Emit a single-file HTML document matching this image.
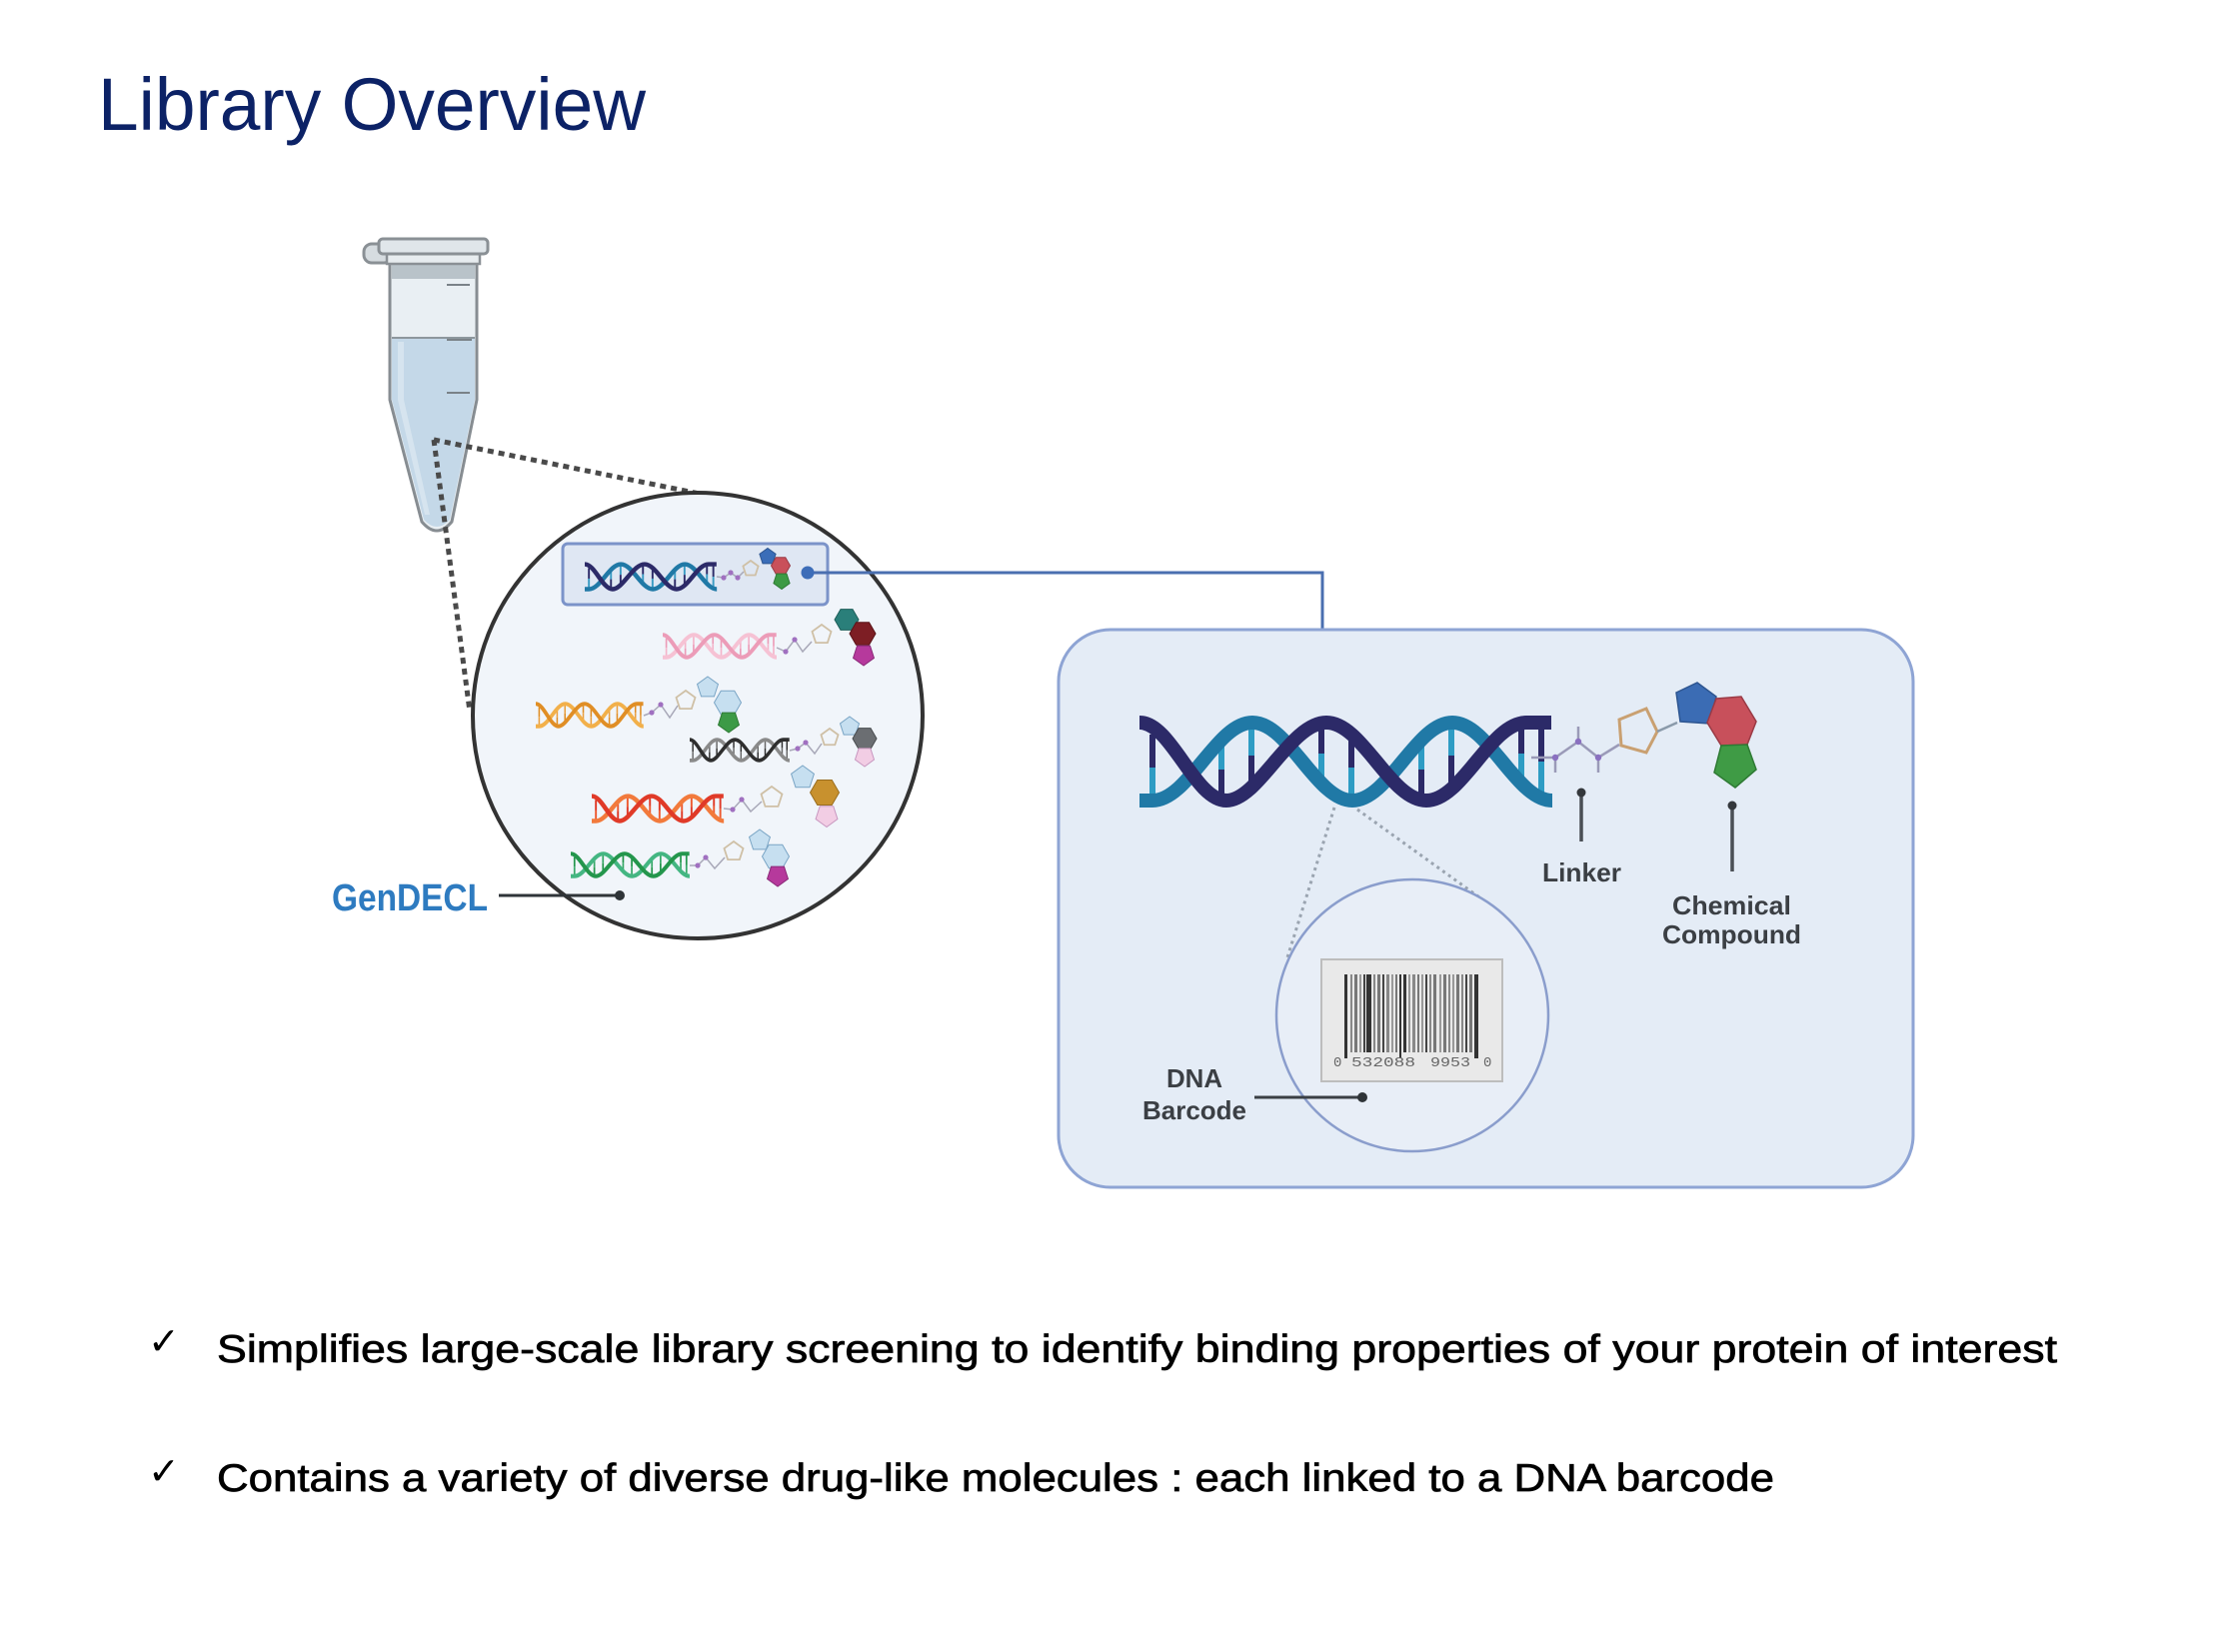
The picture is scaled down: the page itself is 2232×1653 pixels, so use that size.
<!DOCTYPE html>
<html>
<head>
<meta charset="utf-8">
<style>
  html,body{margin:0;padding:0;background:#fff;}
  svg{display:block;}
  .lbl{font-family:"Liberation Sans",Arial,sans-serif;font-weight:bold;fill:#3b3f44;}
</style>
</head>
<body>
<svg width="2232" height="1653" viewBox="0 0 2232 1653" xmlns="http://www.w3.org/2000/svg">
<defs>
  <polygon id="pent" points="0,-1 0.951,-0.309 0.588,0.809 -0.588,0.809 -0.951,-0.309" vector-effect="non-scaling-stroke"/>
  <polygon id="hex" points="1,0 0.5,0.866 -0.5,0.866 -1,0 -0.5,-0.866 0.5,-0.866" vector-effect="non-scaling-stroke"/>
  <g id="dna" fill="none">
    <g stroke-width="6">
      <line x1="13" y1="20" x2="13" y2="53" style="stroke:var(--a)"/><line x1="13" y1="53" x2="13" y2="86" style="stroke:var(--c)"/>
      <line x1="82" y1="25" x2="82" y2="55" style="stroke:var(--c)"/><line x1="82" y1="55" x2="82" y2="85" style="stroke:var(--a)"/>
      <line x1="112" y1="8" x2="112" y2="41" style="stroke:var(--c)"/><line x1="112" y1="41" x2="112" y2="75" style="stroke:var(--a)"/>
      <line x1="182" y1="9" x2="182" y2="39" style="stroke:var(--a)"/><line x1="182" y1="39" x2="182" y2="69" style="stroke:var(--c)"/>
      <line x1="212" y1="20" x2="212" y2="53" style="stroke:var(--a)"/><line x1="212" y1="53" x2="212" y2="86" style="stroke:var(--c)"/>
      <line x1="282" y1="25" x2="282" y2="55" style="stroke:var(--c)"/><line x1="282" y1="55" x2="282" y2="85" style="stroke:var(--a)"/>
      <line x1="312" y1="8" x2="312" y2="41" style="stroke:var(--c)"/><line x1="312" y1="41" x2="312" y2="75" style="stroke:var(--a)"/>
      <line x1="382" y1="9" x2="382" y2="39" style="stroke:var(--a)"/><line x1="382" y1="39" x2="382" y2="69" style="stroke:var(--c)"/>
      <line x1="402" y1="10" x2="402" y2="47" style="stroke:var(--a)"/><line x1="402" y1="47" x2="402" y2="84" style="stroke:var(--c)"/>
    </g>
    <path d="M0,86 L13,86 C49,86 77,8 113,8 S177,86 213,86 S277,8 313,8 S377,86 413,86" stroke-width="14" style="stroke:var(--b)"/>
    <path d="M0,8 C32,8 55,86 87,86 S151,8 187,8 S251,86 287,86 S351,8 387,8 L412,8" stroke-width="14" style="stroke:var(--a)"/>
  </g>
</defs>

<rect width="2232" height="1653" fill="#fff"/>

<!-- Title -->
<text x="98" y="130" font-family="'Liberation Sans',Arial,sans-serif" font-size="74" fill="#0c2266" textLength="548" lengthAdjust="spacingAndGlyphs">Library Overview</text>

<!-- Tube -->
<g>
  <rect x="364" y="244" width="28" height="19" rx="8" fill="#d6dce0" stroke="#8a9095" stroke-width="3"/>
  <path d="M390,263 L390,400 L422,522 Q437,540 452,522 L477,400 L477,263 Z" fill="#e9eff3"/>
  <path d="M392,338 L475,338 L475,400 L450,520 Q437,534 424,520 L392,400 Z" fill="#c4d8e8"/>
  <path d="M398,342 L404,342 L404,400 L430,515 L425,515 L398,400 Z" fill="#d6e4ef"/>
  <rect x="392" y="263" width="83" height="16" fill="#b9c3c9"/>
  <line x1="392" y1="338" x2="475" y2="338" stroke="#8d979d" stroke-width="2"/>
  <path d="M390,263 L390,400 L422,522 Q437,540 452,522 L477,400 L477,263" fill="none" stroke="#878d92" stroke-width="3"/>
  <rect x="387" y="253" width="93" height="11" fill="#e7ecef" stroke="#8a9095" stroke-width="2.5"/>
  <rect x="379" y="239" width="109" height="15" rx="4" fill="#e0e6ea" stroke="#8a9095" stroke-width="3"/>
  <g stroke="#7a8288" stroke-width="2">
    <line x1="447" y1="285" x2="470" y2="285"/>
    <line x1="447" y1="340" x2="472" y2="340"/>
    <line x1="447" y1="393" x2="470" y2="393"/>
  </g>
</g>

<!-- Dashed zoom lines -->
<g stroke="#4a4a4a" stroke-width="5" stroke-dasharray="6 5" fill="none">
  <line x1="434" y1="440" x2="700" y2="494"/>
  <line x1="434" y1="440" x2="470" y2="712"/>
</g>

<!-- Library circle -->
<ellipse cx="698" cy="716" rx="225" ry="223" fill="#f1f5fa" stroke="#333" stroke-width="4"/>

<!-- Highlight rect -->
<rect x="563" y="544" width="265" height="61" rx="5" fill="#dfe7f3" stroke="#7b93c9" stroke-width="3"/>

<!-- Small DNAs -->
<use href="#dna" transform="translate(585,562) scale(0.32,0.32)" style="--a:#2c2a68;--b:#2079a6;--c:#3a9cc4"/>
<use href="#dna" transform="translate(663,633) scale(0.276,0.287)" style="--a:#ec9cb8;--b:#f6c2d4;--c:#f4b4ca"/>
<use href="#dna" transform="translate(536,702) scale(0.261,0.287)" style="--a:#e08e25;--b:#f2b04a;--c:#eaa040"/>
<use href="#dna" transform="translate(690,738) scale(0.242,0.266)" style="--a:#2e2e2e;--b:#8a8a8a;--c:#666"/>
<use href="#dna" transform="translate(592,794) scale(0.32,0.32)" style="--a:#e03a28;--b:#f27a3c;--c:#ee5a30"/>
<use href="#dna" transform="translate(571,852) scale(0.288,0.287)" style="--a:#24964c;--b:#44b682;--c:#38a868"/>

<!-- Small linkers -->
<g fill="none" stroke="#a8a8b8" stroke-width="1.5">
  <polyline points="717,577 724,578 731,573 738,578 744,572"/>
  <polyline points="777,648 786,652 795,640 803,652 812,642"/>
  <polyline points="644,716 652,713 661,705 670,718 678,706"/>
  <polyline points="790,751 798,749 806,743 815,754 822,744"/>
  <polyline points="724,809 733,810 742,800 751,812 762,802"/>
  <polyline points="690,866 698,866 706,858 715,869 725,858"/>
</g>
<g fill="#a070c0">
  <circle cx="724" cy="578" r="2.6"/><circle cx="731" cy="573" r="2.6"/><circle cx="738" cy="578" r="2.6"/>
  <circle cx="786" cy="652" r="2.6"/><circle cx="795" cy="640" r="2.6"/>
  <circle cx="652" cy="713" r="2.6"/><circle cx="661" cy="705" r="2.6"/>
  <circle cx="798" cy="749" r="2.6"/><circle cx="806" cy="743" r="2.6"/>
  <circle cx="733" cy="810" r="2.6"/><circle cx="742" cy="800" r="2.6"/>
  <circle cx="698" cy="866" r="2.6"/><circle cx="706" cy="858" r="2.6"/>
</g>
<g fill="none" stroke="#cfc0a6" stroke-width="1.8">
  <use href="#pent" transform="translate(751,569) scale(8)"/>
  <use href="#pent" transform="translate(822,635) scale(10)"/>
  <use href="#pent" transform="translate(686,701) scale(10)"/>
  <use href="#pent" transform="translate(830,738) scale(9)"/>
  <use href="#pent" transform="translate(772,798) scale(11)"/>
  <use href="#pent" transform="translate(734,852) scale(10)"/>
</g>

<!-- Small molecules -->
<g stroke-width="1">
  <!-- row1 -->
  <use href="#pent" transform="translate(768,557) scale(8.5)" fill="#3a6db8" stroke="#2d5590"/>
  <use href="#hex" transform="translate(781,566) scale(9.5)" fill="#c9505a" stroke="#9a3a45"/>
  <use href="#pent" transform="translate(782,581) rotate(180) scale(8.5)" fill="#3d9a44" stroke="#2e7a34"/>
  <!-- row2 -->
  <use href="#hex" transform="translate(847,620) scale(12)" fill="#2a7f7a" stroke="#1f5f5a"/>
  <use href="#hex" transform="translate(863,634) scale(13)" fill="#7d1e24" stroke="#5a1418"/>
  <use href="#pent" transform="translate(864,655) rotate(180) scale(11)" fill="#b6399c" stroke="#8a2a78"/>
  <!-- row3 -->
  <use href="#pent" transform="translate(708,688) scale(11)" fill="#c6dff0" stroke="#7aa5c5"/>
  <use href="#hex" transform="translate(728,703) scale(13.5)" fill="#c6dff0" stroke="#7aa5c5"/>
  <use href="#pent" transform="translate(729,722) rotate(180) scale(11)" fill="#3c9a46" stroke="#2e7a34"/>
  <!-- row4 -->
  <use href="#pent" transform="translate(850,727) scale(10)" fill="#c6dff0" stroke="#7aa5c5"/>
  <use href="#hex" transform="translate(865,739) scale(12)" fill="#6b6e72" stroke="#4a4d50"/>
  <use href="#pent" transform="translate(865,757) rotate(180) scale(10)" fill="#f2cde4" stroke="#c898c0"/>
  <!-- row5 -->
  <use href="#pent" transform="translate(803,778) scale(12)" fill="#c6dff0" stroke="#7aa5c5"/>
  <use href="#hex" transform="translate(825,793) scale(14.5)" fill="#c8912e" stroke="#9a6e20"/>
  <use href="#pent" transform="translate(827,816) rotate(180) scale(11.5)" fill="#f2cde4" stroke="#c898c0"/>
  <!-- row6 -->
  <use href="#pent" transform="translate(760,841) scale(11)" fill="#c6dff0" stroke="#7aa5c5"/>
  <use href="#hex" transform="translate(776,857) scale(13.5)" fill="#c6dff0" stroke="#7aa5c5"/>
  <use href="#pent" transform="translate(778,876) rotate(180) scale(11)" fill="#b6399c" stroke="#8a2a78"/>
</g>

<!-- Blue connector -->
<polyline points="808,573 1323,573 1323,685" fill="none" stroke="#4a6fb0" stroke-width="3"/>
<circle cx="808" cy="573" r="6.5" fill="#3d6db8"/>

<!-- GenDECL label -->
<text x="332" y="911" font-family="'Liberation Sans',Arial,sans-serif" font-weight="bold" font-size="38" fill="#2e7bc0" textLength="156" lengthAdjust="spacingAndGlyphs">GenDECL</text>
<line x1="499" y1="896" x2="620" y2="896" stroke="#2f3438" stroke-width="3"/>
<circle cx="620" cy="896" r="5" fill="#2f3438"/>

<!-- Right box -->
<rect x="1059" y="630" width="855" height="558" rx="52" fill="#e4ecf6" stroke="#8ea4d4" stroke-width="3"/>

<!-- Dotted lines to barcode circle -->
<g stroke="#9aa4b0" stroke-width="3" stroke-dasharray="3 4" fill="none">
  <line x1="1335" y1="808" x2="1288" y2="958"/>
  <line x1="1358" y1="810" x2="1483" y2="900"/>
</g>

<!-- Barcode circle -->
<circle cx="1413" cy="1016" r="136" fill="#e8eef7" stroke="#8a9dcc" stroke-width="2.5"/>

<!-- Barcode -->
<rect x="1322" y="960" width="181" height="122" fill="#e9e9e9" stroke="#bdbdbd" stroke-width="2"/>
<g>
  <rect x="1345" y="975" width="3" height="84" fill="#333"/>
  <rect x="1351" y="975" width="2" height="78" fill="#888"/>
  <rect x="1355" y="975" width="3" height="78" fill="#777"/>
  <rect x="1360" y="975" width="2" height="78" fill="#999"/>
  <rect x="1364" y="975" width="2" height="78" fill="#444"/>
  <rect x="1367" y="975" width="5" height="78" fill="#333"/>
  <rect x="1374" y="975" width="2" height="78" fill="#888"/>
  <rect x="1378" y="975" width="3" height="78" fill="#777"/>
  <rect x="1383" y="975" width="2" height="78" fill="#444"/>
  <rect x="1387" y="975" width="3" height="78" fill="#888"/>
  <rect x="1392" y="975" width="2" height="78" fill="#999"/>
  <rect x="1396" y="975" width="2" height="78" fill="#777"/>
  <rect x="1400" y="975" width="2" height="84" fill="#333"/>
  <rect x="1404" y="975" width="3" height="78" fill="#333"/>
  <rect x="1409" y="975" width="2" height="78" fill="#999"/>
  <rect x="1413" y="975" width="3" height="78" fill="#888"/>
  <rect x="1418" y="975" width="2" height="78" fill="#777"/>
  <rect x="1422" y="975" width="2" height="78" fill="#999"/>
  <rect x="1426" y="975" width="2" height="78" fill="#444"/>
  <rect x="1430" y="975" width="2" height="78" fill="#888"/>
  <rect x="1434" y="975" width="3" height="78" fill="#777"/>
  <rect x="1440" y="975" width="2" height="78" fill="#999"/>
  <rect x="1444" y="975" width="3" height="78" fill="#777"/>
  <rect x="1449" y="975" width="2" height="78" fill="#888"/>
  <rect x="1453" y="975" width="2" height="78" fill="#999"/>
  <rect x="1457" y="975" width="3" height="78" fill="#777"/>
  <rect x="1462" y="975" width="2" height="78" fill="#888"/>
  <rect x="1466" y="975" width="2" height="78" fill="#444"/>
  <rect x="1470" y="975" width="3" height="78" fill="#777"/>
  <rect x="1475" y="975" width="4" height="84" fill="#333"/>
</g>
<g font-family="'Liberation Mono',monospace" font-size="14" fill="#666">
  <text x="1334" y="1067">0</text>
  <text x="1352" y="1067" textLength="64" lengthAdjust="spacingAndGlyphs">532088</text>
  <text x="1431" y="1067" textLength="40" lengthAdjust="spacingAndGlyphs">9953</text>
  <text x="1484" y="1067">0</text>
</g>

<!-- Big DNA -->
<use href="#dna" transform="translate(1140,715)" style="--a:#2c2a68;--b:#2079a6;--c:#2e9cc4"/>

<!-- Linker -->
<polyline points="1532,758 1556,758 1579,742 1599,758 1620,745" fill="none" stroke="#9a9ab8" stroke-width="2.5"/>
<g stroke="#9a9ab8" stroke-width="2.5">
  <line x1="1556" y1="758" x2="1556" y2="773"/>
  <line x1="1579" y1="742" x2="1579" y2="727"/>
  <line x1="1599" y1="758" x2="1599" y2="773"/>
</g>
<g fill="#8a70c0">
  <circle cx="1556" cy="758" r="3.2"/><circle cx="1579" cy="742" r="3.2"/><circle cx="1599" cy="758" r="3.2"/>
</g>
<polygon points="1620,720 1647,709 1658,732 1647,753 1622,746" fill="none" stroke="#c9a071" stroke-width="3"/>
<line x1="1658" y1="732" x2="1678" y2="723" stroke="#8a9aaa" stroke-width="2.5"/>

<!-- Chemical compound -->
<polygon points="1677,693 1698,683 1717,697 1710,724 1681,722" fill="#3b6cb4" stroke="#2d5590" stroke-width="1.5"/>
<polygon points="1717,699 1742,697 1757,722 1748,745 1722,746 1708,723" fill="#c8505b" stroke="#9a3a45" stroke-width="1.5"/>
<polygon points="1722,746 1748,745 1757,770 1736,788 1715,773" fill="#3f9b45" stroke="#2e7a34" stroke-width="1.5"/>

<!-- Pins -->
<line x1="1582" y1="793" x2="1582" y2="842" stroke="#4a4f55" stroke-width="3.5"/>
<circle cx="1582" cy="793" r="4.5" fill="#34383c"/>
<line x1="1733" y1="806" x2="1733" y2="872" stroke="#4a4f55" stroke-width="3.5"/>
<circle cx="1733" cy="806" r="4.5" fill="#34383c"/>
<line x1="1255" y1="1098" x2="1363" y2="1098" stroke="#3a3f44" stroke-width="3"/>
<circle cx="1363" cy="1098" r="5" fill="#2f3438"/>

<!-- Labels -->
<text class="lbl" x="1543" y="882" font-size="26" textLength="79" lengthAdjust="spacingAndGlyphs">Linker</text>
<text class="lbl" x="1673" y="915" font-size="26" textLength="119" lengthAdjust="spacingAndGlyphs">Chemical</text>
<text class="lbl" x="1663" y="944" font-size="26" textLength="139" lengthAdjust="spacingAndGlyphs">Compound</text>
<text class="lbl" x="1167" y="1088" font-size="26" textLength="56" lengthAdjust="spacingAndGlyphs">DNA</text>
<text class="lbl" x="1143" y="1120" font-size="26" textLength="104" lengthAdjust="spacingAndGlyphs">Barcode</text>

<!-- Bullets -->
<g font-family="'DejaVu Sans',sans-serif" font-size="38" fill="#000">
  <text x="148" y="1355">✓</text>
  <text x="148" y="1485">✓</text>
</g>
<g font-family="'Liberation Sans',Arial,sans-serif" font-size="39" fill="#000" stroke="#000" stroke-width="0.7">
  <text x="217" y="1363" textLength="1841" lengthAdjust="spacingAndGlyphs">Simplifies large-scale library screening to identify binding properties of your protein of interest</text>
  <text x="217" y="1492" textLength="1558" lengthAdjust="spacingAndGlyphs">Contains a variety of diverse drug-like molecules : each linked to a DNA barcode</text>
</g>
</svg>
</body>
</html>
